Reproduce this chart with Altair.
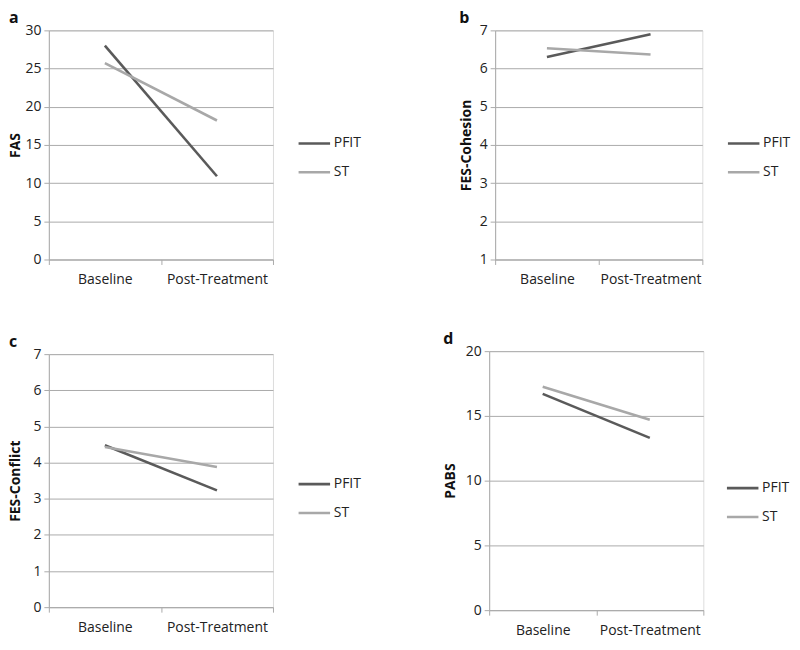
import altair as alt
import pandas as pd

times = ["Baseline", "Post-Treatment"]
groups = ["PFIT", "ST"]

fas_pfit = [28.0, 10.9]
fas_st = [25.7, 18.2]
coh_pfit = [6.3, 6.9]
coh_st = [6.53, 6.37]
con_pfit = [4.48, 3.23]
con_st = [4.43, 3.88]
pabs_pfit = [16.7, 13.3]
pabs_st = [17.25, 14.7]

FONT = "Open Sans"
GRID = "#ababab"
FS = 14


def panel(letter, ytitle, pfit, st, domain, step, w, h, leg_x, leg_y, tpad):
    rows = []
    for t, v in zip(times, pfit):
        rows.append({"time": t, "group": "PFIT", "value": v})
    for t, v in zip(times, st):
        rows.append({"time": t, "group": "ST", "value": v})
    df = pd.DataFrame(rows)
    ticks = list(range(domain[0], domain[1] + 1, step))
    return alt.Chart(df).mark_line(strokeWidth=2.6).encode(
        x=alt.X("time:N", sort=times, title=None,
                scale=alt.Scale(paddingInner=0, paddingOuter=0),
                axis=alt.Axis(labelAngle=0, tickBand="extent", grid=False,
                              domainColor=GRID, tickColor=GRID, tickSize=5,
                              labelPadding=8, labelFontSize=FS, labelFont=FONT,
                              labelColor="#222")),
        y=alt.Y("value:Q", title=ytitle,
                scale=alt.Scale(domain=domain, nice=False, zero=False),
                axis=alt.Axis(values=ticks, grid=True, gridColor=GRID,
                              domainColor=GRID, tickColor=GRID, tickSize=5,
                              labelPadding=3, labelFontSize=FS, labelFont=FONT,
                              labelColor="#222", titleFont=FONT, titleFontSize=FS,
                              titleFontWeight="bold", titleColor="#111",
                              titlePadding=tpad)),
        color=alt.Color("group:N", sort=groups,
                        scale=alt.Scale(domain=groups, range=["#5a5a5a", "#a8a8a8"]),
                        legend=alt.Legend(title=None, orient="none", legendX=w + leg_x,
                                          legendY=leg_y, symbolType="stroke",
                                          symbolSize=1000, symbolStrokeWidth=2.6,
                                          labelFont=FONT, labelFontSize=FS,
                                          labelColor="#222", rowPadding=4,
                                          labelOffset=2)),
    ).properties(
        width=w, height=h,
        title=alt.TitleParams(letter, anchor="start", frame="bounds", fontSize=16,
                              fontWeight="bold", font=FONT, color="#111", offset=-3),
    )


a = panel("a", "FAS", fas_pfit, fas_st, [0, 30], 5, 225, 230, 24, 96, 2)
b = panel("b", "FES-Cohesion", coh_pfit, coh_st, [1, 7], 1, 208, 230, 24, 96, 6)
c = panel("c", "FES-Conflict", con_pfit, con_st, [0, 7], 1, 225, 254, 24, 113, 10)
d = panel("d", "PABS", pabs_pfit, pabs_st, [0, 20], 5, 215, 260, 22, 120, 8)

row1 = alt.hconcat(a, b, spacing=96, center=True).resolve_scale(color="independent")
row2 = alt.hconcat(c, d, spacing=80, center=True).resolve_scale(color="independent")

chart = alt.concat(
    row1, row2, columns=1, spacing=43, align="none", center=False,
).resolve_scale(color="independent").configure_view(strokeWidth=0).configure(
    font=FONT, background="white", padding=0
)

chart.save("out.html", embed_options={"renderer": "svg", "actions": False})
